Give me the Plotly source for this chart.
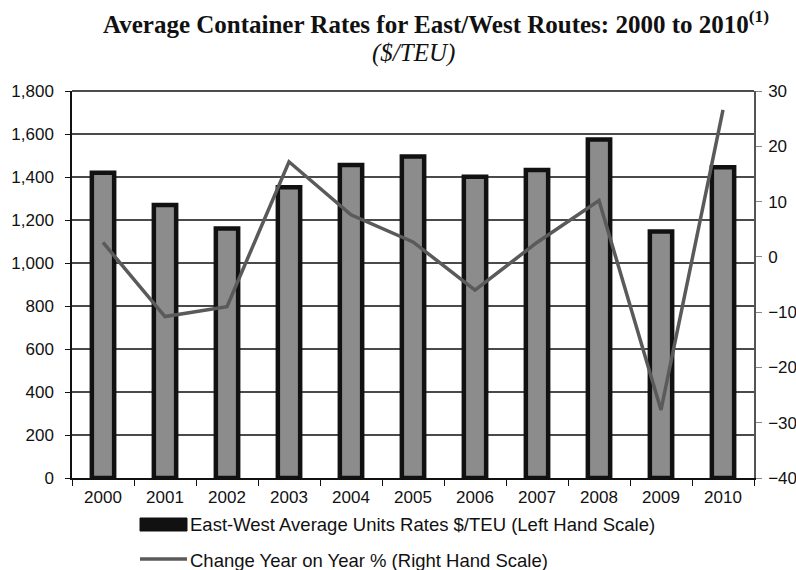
import plotly.graph_objects as go

# Annual East/West container rates and year-on-year change
years = ["2000", "2001", "2002", "2003", "2004", "2005",
         "2006", "2007", "2008", "2009", "2010"]
rates_usd_teu = [1420, 1270, 1160, 1352, 1456, 1495, 1401, 1433, 1575, 1146, 1445]
change_pct = [2.6, -10.8, -9.0, 17.2, 7.6, 2.7, -6.0, 2.6, 10.2, -27.7, 26.6]

left_ticks = list(range(0, 1801, 200))
left_tick_text = [f"{v:,}" for v in left_ticks]
right_ticks = list(range(-40, 31, 10))

bar_name = "East-West Average Units Rates $/TEU (Left Hand Scale)"
line_name = "Change Year on Year % (Right Hand Scale)"

FONT = "Liberation Sans, Arial, sans-serif"
SERIF = "Liberation Serif, Times New Roman, serif"

fig = go.Figure()

fig.add_trace(go.Bar(
    x=years, y=rates_usd_teu, name=bar_name,
    width=0.36,
    marker=dict(color="#8c8c8c", line=dict(color="#111111", width=4.5)),
    yaxis="y", showlegend=False,
))

fig.add_trace(go.Scatter(
    x=years, y=change_pct, name=line_name, mode="lines",
    line=dict(color="#5a5a5a", width=3.5),
    yaxis="y2", showlegend=False,
))

fig.update_layout(
    width=796, height=570,
    margin=dict(l=72, r=42, t=91, b=92),
    paper_bgcolor="white", plot_bgcolor="white",
    font=dict(family=FONT, size=17, color="#111111"),
    xaxis=dict(
        type="category", showline=True, linecolor="#111111", linewidth=1.5,
        ticks="outside", tickson="boundaries", ticklen=6, tickcolor="#111111",
        showgrid=False, mirror=False, ticklabelstandoff=3, automargin=False,
        tickfont=dict(size=17),
    ),
    yaxis=dict(
        range=[0, 1800], tickvals=left_ticks, ticktext=left_tick_text,
        showline=True, linecolor="#111111", linewidth=1.5,
        ticks="outside", ticklen=5, tickcolor="#111111",
        showgrid=True, gridcolor="#4a4a4a", gridwidth=1.5,
        zeroline=False, ticklabelstandoff=8, automargin=False,
    ),
    yaxis2=dict(
        range=[-40, 30], tickvals=right_ticks,
        overlaying="y", side="right",
        showline=True, linecolor="#555555", linewidth=1.5,
        ticks="outside", ticklen=6, tickcolor="#888888",
        showgrid=False, zeroline=False, ticklabelstandoff=3, automargin=False,
        tickfont=dict(size=17),
    ),
    shapes=[
        # top edge of the plot frame
        dict(type="line", xref="paper", yref="paper", x0=0, x1=1, y0=1, y1=1,
             line=dict(color="#111111", width=1.5)),
        # legend keys
        dict(type="rect", xref="paper", yref="paper",
             x0=(140 - 72) / 682, x1=(187 - 72) / 682,
             y0=-(531 - 478) / 387, y1=-(518 - 478) / 387,
             fillcolor="#111111", line=dict(color="#111111", width=1)),
        dict(type="line", xref="paper", yref="paper",
             x0=(140 - 72) / 682, x1=(187 - 72) / 682,
             y0=-(559 - 478) / 387, y1=-(559 - 478) / 387,
             line=dict(color="#5a5a5a", width=3.5)),
    ],
    annotations=[
        dict(text="<b>Average Container Rates for East/West Routes: 2000 to 2010"
                  "<sup>(1)</sup></b>",
             xref="paper", yref="paper", x=(436 - 72) / 682, y=(478 - 22) / 387,
             xanchor="center", yanchor="middle", showarrow=False,
             font=dict(family=SERIF, size=25, color="#111111")),
        dict(text="<i>($/TEU)</i>",
             xref="paper", yref="paper", x=(413 - 72) / 682, y=(478 - 53) / 387,
             xanchor="center", yanchor="middle", showarrow=False,
             font=dict(family=SERIF, size=25, color="#111111")),
        dict(text=bar_name, xref="paper", yref="paper",
             x=(188 - 72) / 682, y=-(524 - 478) / 387,
             xanchor="left", yanchor="middle", showarrow=False,
             font=dict(size=18.5, color="#111111")),
        dict(text=line_name, xref="paper", yref="paper",
             x=(188 - 72) / 682, y=-(560 - 478) / 387,
             xanchor="left", yanchor="middle", showarrow=False,
             font=dict(size=18.5, color="#111111")),
    ],
)

fig.write_html("out.html")
